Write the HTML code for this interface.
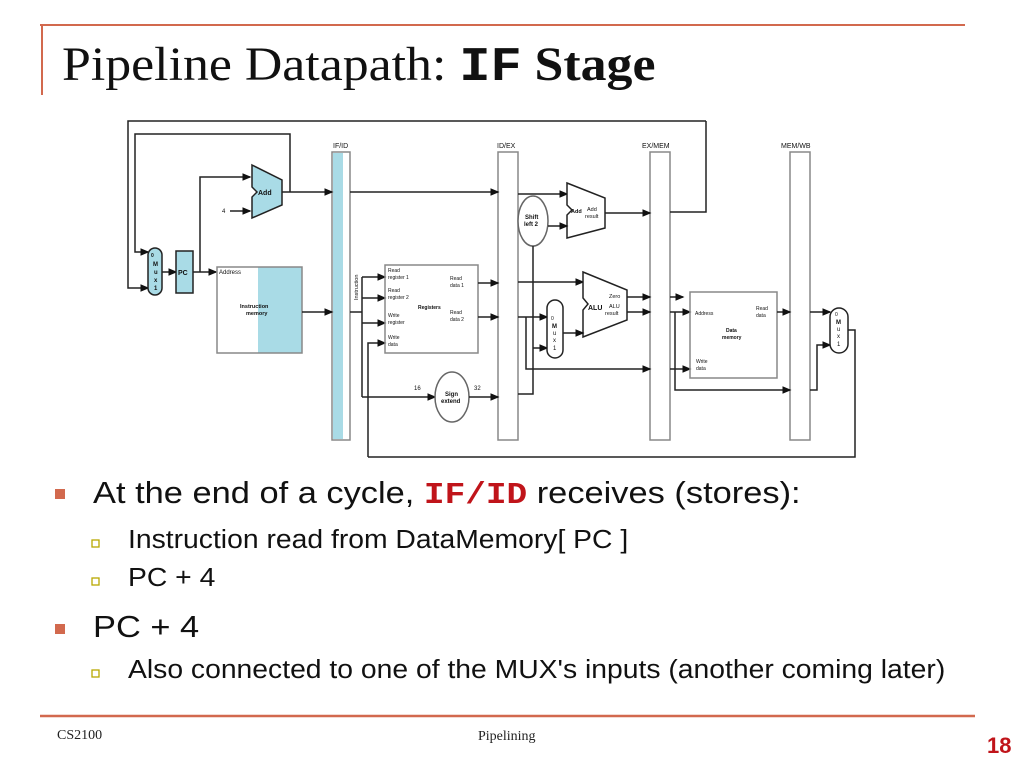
<!DOCTYPE html>
<html><head><meta charset="utf-8"><style>
body{margin:0;width:1024px;height:768px;background:#fff;position:relative;overflow:hidden;font-family:"Liberation Sans",sans-serif}
.t{position:absolute;white-space:nowrap;transform-origin:0 0}
</style></head><body>
<svg width="1024" height="768" style="position:absolute;left:0;top:0" font-family="Liberation Sans, sans-serif">
<defs><marker id="a" markerWidth="6" markerHeight="6" refX="5" refY="3" orient="auto"><path d="M0,0.5 L6,3 L0,5.5z" fill="#111"/></marker></defs>
<line x1="40" y1="25" x2="965" y2="25" stroke="#d2694e" stroke-width="2"/>
<line x1="42" y1="25" x2="42" y2="95" stroke="#d2694e" stroke-width="2"/>
<line x1="40" y1="716" x2="975" y2="716" stroke="#d2694e" stroke-width="2.5"/>
<g stroke="#222" stroke-width="1.5" fill="none">
<rect x="332" y="152" width="18" height="288" fill="#fff" stroke="#888"/>
<rect x="333" y="153" width="10" height="286" fill="#a9dbe6" stroke="none"/>
<rect x="498" y="152" width="20" height="288" fill="#fff" stroke="#888"/>
<rect x="650" y="152" width="20" height="288" fill="#fff" stroke="#888"/>
<rect x="790" y="152" width="20" height="288" fill="#fff" stroke="#888"/>
<polyline points="706,121 128,121 128,288 148,288" marker-end="url(#a)"/>
<polyline points="290,192 290,134 135,134 135,252 148,252" marker-end="url(#a)"/>
<polyline points="706,121 706,212 670,212"/>
<rect x="148" y="248" width="14" height="47" rx="7" fill="#a9dbe6"/>
<line x1="162" y1="272" x2="176" y2="272" marker-end="url(#a)"/>
<rect x="176" y="251" width="17" height="42" fill="#a9dbe6"/>
<line x1="193" y1="272" x2="216" y2="272" marker-end="url(#a)"/>
<polyline points="200,272 200,177 250,177" marker-end="url(#a)"/>
<line x1="230" y1="211" x2="250" y2="211" marker-end="url(#a)"/>
<path d="M252,165 L282,180 L282,205 L252,218 L252,197 L257,192 L252,187 Z" fill="#a9dbe6"/>
<line x1="282" y1="192" x2="332" y2="192" marker-end="url(#a)"/>
<line x1="350" y1="192" x2="498" y2="192" marker-end="url(#a)"/>
<rect x="258" y="267" width="44" height="86" fill="#a9dbe6" stroke="none"/>
<rect x="217" y="267" width="85" height="86" stroke="#888"/>
<line x1="302" y1="312" x2="332" y2="312" marker-end="url(#a)"/>
<polyline points="350,312 362,312"/>
<line x1="362" y1="277" x2="362" y2="397"/>
<line x1="362" y1="277" x2="385" y2="277" marker-end="url(#a)"/>
<line x1="362" y1="298" x2="385" y2="298" marker-end="url(#a)"/>
<line x1="362" y1="323" x2="385" y2="323" marker-end="url(#a)"/>
<polyline points="368,457 368,343 385,343" marker-end="url(#a)"/>
<line x1="362" y1="397" x2="435" y2="397" marker-end="url(#a)"/>
<rect x="385" y="265" width="93" height="88" stroke="#888"/>
<line x1="478" y1="283" x2="498" y2="283" marker-end="url(#a)"/>
<line x1="478" y1="317" x2="498" y2="317" marker-end="url(#a)"/>
<ellipse cx="452" cy="397" rx="17" ry="25" fill="#fff" stroke="#666"/>
<line x1="469" y1="397" x2="498" y2="397" marker-end="url(#a)"/>
<line x1="518" y1="194" x2="567" y2="194" marker-end="url(#a)"/>
<path d="M567,183 L605,198 L605,228 L567,238 L567,215 L572,210 L567,205 Z" fill="#fff"/>
<ellipse cx="533" cy="221" rx="15" ry="25" fill="#fff" stroke="#666"/>
<line x1="548" y1="226" x2="567" y2="226" marker-end="url(#a)"/>
<polyline points="533,246 533,394 518,394"/>
<line x1="605" y1="213" x2="650" y2="213" marker-end="url(#a)"/>
<line x1="518" y1="282" x2="583" y2="282" marker-end="url(#a)"/>
<path d="M583,272 L627,290 L627,320 L583,337 L583,310 L588,304 L583,298 Z" fill="#fff"/>
<line x1="518" y1="317" x2="547" y2="317" marker-end="url(#a)"/>
<polyline points="526,317 526,369 650,369" marker-end="url(#a)"/>
<line x1="533" y1="348" x2="547" y2="348" marker-end="url(#a)"/>
<rect x="547" y="300" width="16" height="58" rx="8" fill="#fff"/>
<line x1="563" y1="333" x2="583" y2="333" marker-end="url(#a)"/>
<line x1="627" y1="297" x2="650" y2="297" marker-end="url(#a)"/>
<line x1="627" y1="312" x2="650" y2="312" marker-end="url(#a)"/>
<line x1="670" y1="297" x2="683" y2="297" marker-end="url(#a)"/>
<line x1="670" y1="312" x2="690" y2="312" marker-end="url(#a)"/>
<line x1="670" y1="369" x2="690" y2="369" marker-end="url(#a)"/>
<polyline points="675,312 675,390 790,390" marker-end="url(#a)"/>
<rect x="690" y="292" width="87" height="86" stroke="#888"/>
<line x1="777" y1="312" x2="790" y2="312" marker-end="url(#a)"/>
<line x1="810" y1="312" x2="830" y2="312" marker-end="url(#a)"/>
<polyline points="810,390 817,390 817,345 830,345" marker-end="url(#a)"/>
<rect x="830" y="308" width="18" height="45" rx="9" fill="#fff"/>
<polyline points="848,330 855,330 855,457 368,457"/>
</g>
<g font-size="6" fill="#111">
<text x="333" y="148" font-size="7">IF/ID</text>
<text x="497" y="148" font-size="7">ID/EX</text>
<text x="642" y="148" font-size="7">EX/MEM</text>
<text x="781" y="148" font-size="7">MEM/WB</text>
<text x="258" y="195" font-weight="bold" font-size="7">Add</text>
<text x="222" y="213">4</text>
<text x="151" y="257" font-size="5" font-weight="bold">0</text>
<text x="153" y="266" font-size="6" font-weight="bold">M</text>
<text x="154" y="274" font-weight="bold">u</text>
<text x="154" y="282" font-weight="bold">x</text>
<text x="154" y="290" font-weight="bold">1</text>
<text x="178" y="275" font-weight="bold" font-size="7">PC</text>
<text x="219" y="274">Address</text>
<text x="240" y="308" font-weight="bold" font-size="5.5">Instruction</text>
<text x="246" y="315" font-weight="bold" font-size="5.5">memory</text>
<text x="358" y="300" transform="rotate(-90 358 300)" font-size="5.5">Instruction</text>
<text x="388" y="272" font-size="5">Read</text><text x="388" y="279" font-size="5">register 1</text>
<text x="388" y="292" font-size="5">Read</text><text x="388" y="299" font-size="5">register 2</text>
<text x="388" y="317" font-size="5">Write</text><text x="388" y="324" font-size="5">register</text>
<text x="388" y="339" font-size="5">Write</text><text x="388" y="346" font-size="5">data</text>
<text x="418" y="309" font-size="5" font-weight="bold">Registers</text>
<text x="450" y="280" font-size="5">Read</text><text x="450" y="287" font-size="5">data 1</text>
<text x="450" y="314" font-size="5">Read</text><text x="450" y="321" font-size="5">data 2</text>
<text x="414" y="390">16</text><text x="474" y="390">32</text>
<text x="445" y="396" font-weight="bold" font-size="6">Sign</text>
<text x="441" y="403" font-weight="bold" font-size="6">extend</text>
<text x="525" y="219" font-weight="bold" font-size="6">Shift</text>
<text x="524" y="226" font-weight="bold" font-size="6">left 2</text>
<text x="571" y="213" font-size="5.5" font-weight="bold">Add</text>
<text x="587" y="211" font-size="5.5">Add</text><text x="585" y="218" font-size="5.5">result</text>
<text x="588" y="310" font-weight="bold" font-size="7">ALU</text>
<text x="609" y="298" font-size="5.5">Zero</text>
<text x="609" y="308" font-size="5.5">ALU</text><text x="605" y="315" font-size="5.5">result</text>
<text x="551" y="320" font-size="5">0</text><text x="552" y="328" font-weight="bold">M</text><text x="553" y="335">u</text><text x="553" y="342">x</text><text x="553" y="350">1</text>
<text x="695" y="315" font-size="5">Address</text>
<text x="756" y="310" font-size="5">Read</text><text x="756" y="317" font-size="5">data</text>
<text x="726" y="332" font-size="5" font-weight="bold">Data</text>
<text x="722" y="339" font-size="5" font-weight="bold">memory</text>
<text x="696" y="363" font-size="5">Write</text><text x="696" y="370" font-size="5">data</text>
<text x="835" y="316" font-size="5">0</text><text x="836" y="324" font-weight="bold">M</text><text x="837" y="331">u</text><text x="837" y="338">x</text><text x="837" y="346">1</text>
</g>
<rect x="55" y="489" width="10" height="10" fill="#d2694e"/>
<rect x="55" y="624" width="10" height="10" fill="#d2694e"/>
<rect x="92" y="540" width="7" height="7" fill="#fff" stroke="#b8a800" stroke-width="1.3"/>
<rect x="92" y="578" width="7" height="7" fill="#fff" stroke="#b8a800" stroke-width="1.3"/>
<rect x="92" y="670" width="7" height="7" fill="#fff" stroke="#b8a800" stroke-width="1.3"/>
</svg>
<div class="t" style="left:62px;top:37px;font-family:'Liberation Serif',serif;font-size:48px;color:#111;transform:scaleX(1.08)">Pipeline Datapath: <b style="font-family:'Liberation Mono',monospace">IF</b> <b>Stage</b></div>
<div class="t" style="left:93px;top:475px;font-size:31px;color:#111;transform:scaleX(1.11)">At the end of a cycle, <b style="font-family:'Liberation Mono',monospace;color:#c0141a">IF/ID</b> receives (stores):</div>
<div class="t" style="left:128px;top:526px;font-size:25.5px;color:#111;transform:scaleX(1.11)">Instruction read from DataMemory[ PC ]</div>
<div class="t" style="left:128px;top:564px;font-size:25.5px;color:#111;transform:scaleX(1.11)">PC + 4</div>
<div class="t" style="left:93px;top:609px;font-size:31px;color:#111;transform:scaleX(1.11)">PC + 4</div>
<div class="t" style="left:128px;top:656px;font-size:25.5px;color:#111;transform:scaleX(1.11)">Also connected to one of the MUX's inputs (another coming later)</div>
<div class="t" style="left:57px;top:728px;font-family:'Liberation Serif',serif;font-size:14px;color:#222">CS2100</div>
<div class="t" style="left:478px;top:729px;font-family:'Liberation Serif',serif;font-size:14px;color:#222">Pipelining</div>
<div class="t" style="left:987px;top:733px;font-size:22px;font-weight:bold;color:#c0141a">18</div>
</body></html>
